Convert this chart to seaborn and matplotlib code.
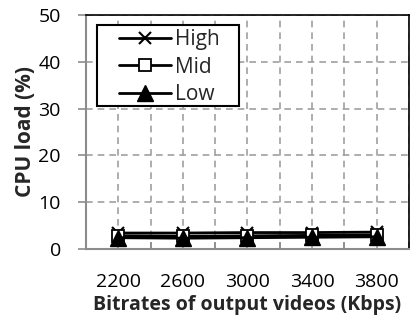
import matplotlib
matplotlib.use("Agg")
import matplotlib.pyplot as plt
import seaborn as sns
import pandas as pd
from matplotlib.ticker import FixedLocator
from matplotlib.patches import Rectangle

bitrates = ["2200", "2600", "3000", "3400", "3800"]
high = [3.4, 3.4, 3.5, 3.5, 3.6]
mid = [2.8, 2.7, 2.8, 2.9, 3.0]
low = [2.4, 2.3, 2.4, 2.5, 2.6]
series_names = ["High", "Mid", "Low"]
y_ticks = [0, 10, 20, 30, 40, 50]

sns.set_style("white")
plt.rcParams["font.family"] = ["Open Sans", "DejaVu Sans"]

fig = plt.figure(figsize=(4.15, 3.25), dpi=100)
ax = fig.add_axes([0.207, 0.234, 0.7785, 0.72])

styles = {
    "High": dict(marker="x", markersize=8, markeredgewidth=1.5, markerfacecolor="black", markeredgecolor="black"),
    "Mid": dict(marker="s", markersize=9, markeredgewidth=1.3, markerfacecolor="white", markeredgecolor="black"),
    "Low": dict(marker="^", markersize=12, markeredgewidth=1.0, markerfacecolor="black", markeredgecolor="black"),
}
for name, vals in zip(series_names, [high, mid, low]):
    df = pd.DataFrame({"bitrate": bitrates, "load": vals})
    sns.lineplot(data=df, x="bitrate", y="load", ax=ax, color="black", linewidth=2,
                 label=name, sort=False, **styles[name])

ax.set_xlim(-0.5, len(bitrates) - 0.5)
ax.set_ylim(0, 50)
ax.set_yticks(y_ticks)
ax.xaxis.set_minor_locator(FixedLocator([i + 0.5 for i in range(-1, len(bitrates))]))

ax.grid(True, which="major", axis="both", color="#a0a0a0", linestyle=(0, (4, 3)), linewidth=1.2)
ax.grid(True, which="minor", axis="x", color="#a0a0a0", linestyle=(0, (4, 3)), linewidth=1.2)
ax.set_axisbelow(True)

for s in ["top", "right"]:
    ax.spines[s].set_color("black")
    ax.spines[s].set_linewidth(1.2)
for s in ["left", "bottom"]:
    ax.spines[s].set_color("#8c8c8c")
    ax.spines[s].set_linewidth(1.5)

ax.tick_params(axis="y", which="major", direction="out", length=6, width=1.2, color="#8c8c8c",
               labelsize=14, labelcolor="black", pad=12, left=True)
ax.tick_params(axis="x", which="major", length=0, labelsize=14, labelcolor="black", pad=17)
ax.tick_params(axis="x", which="minor", direction="in", length=5, width=1.2, color="#8c8c8c", bottom=True)

ax.set_xlabel("Bitrates of output videos (Kbps)", fontsize=14, fontweight="bold", labelpad=3)
ax.set_ylabel("CPU load (%)", fontsize=15, fontweight="bold", labelpad=2)

# legend frame (drawn separately for Excel-like wide padding)
ax.add_patch(Rectangle((0.034, 0.611), 0.44, 0.346, transform=ax.transAxes,
                       facecolor="white", edgecolor="black", linewidth=1.5, zorder=4.5))
leg = ax.legend(loc="upper left", bbox_to_anchor=(0.102, 0.938), frameon=False,
                fontsize=15, handlelength=2.5, borderpad=0.0,
                labelspacing=0.3, handletextpad=0.2, borderaxespad=0)
leg.set_zorder(5)

fig.savefig("out.png", dpi=100)
